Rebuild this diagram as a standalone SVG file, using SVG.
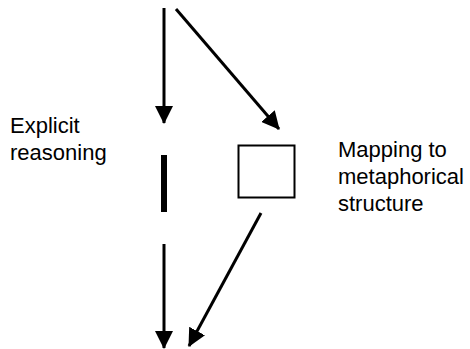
<svg xmlns="http://www.w3.org/2000/svg" width="470" height="349" viewBox="0 0 470 349">
<style>
.lbl{font-family:"Liberation Sans",Arial,sans-serif;font-size:22px;fill:#000}
.ln{stroke:#000;stroke-width:3;fill:none}
</style>
<defs>
<marker id="ah" markerUnits="userSpaceOnUse" markerWidth="18" markerHeight="18" viewBox="0 0 18 18" refX="17" refY="9" orient="auto">
<path d="M0,0 L18,9 L0,18 Z" fill="#000"/>
</marker>
</defs>
<rect width="470" height="349" fill="#fff"/>
<g id="connectors">
<line class="ln" x1="164" y1="8" x2="164" y2="123" marker-end="url(#ah)"/>
<line class="ln" x1="176" y1="9" x2="279" y2="129" marker-end="url(#ah)"/>
<line class="ln" x1="261" y1="213" x2="189" y2="346" marker-end="url(#ah)"/>
<line class="ln" x1="164" y1="244" x2="164" y2="348" marker-end="url(#ah)"/>
</g>
<g id="explicit-reasoning">
<rect x="161" y="155" width="6" height="57" fill="#000"/>
<text class="lbl" x="10" y="133">Explicit</text>
<text class="lbl" x="10" y="160">reasoning</text>
</g>
<g id="mapping">
<rect x="238.5" y="145.5" width="56" height="52" fill="#fff" stroke="#000" stroke-width="2"/>
<text class="lbl" x="338" y="157">Mapping to</text>
<text class="lbl" x="338" y="184">metaphorical</text>
<text class="lbl" x="338" y="211">structure</text>
</g>
</svg>
